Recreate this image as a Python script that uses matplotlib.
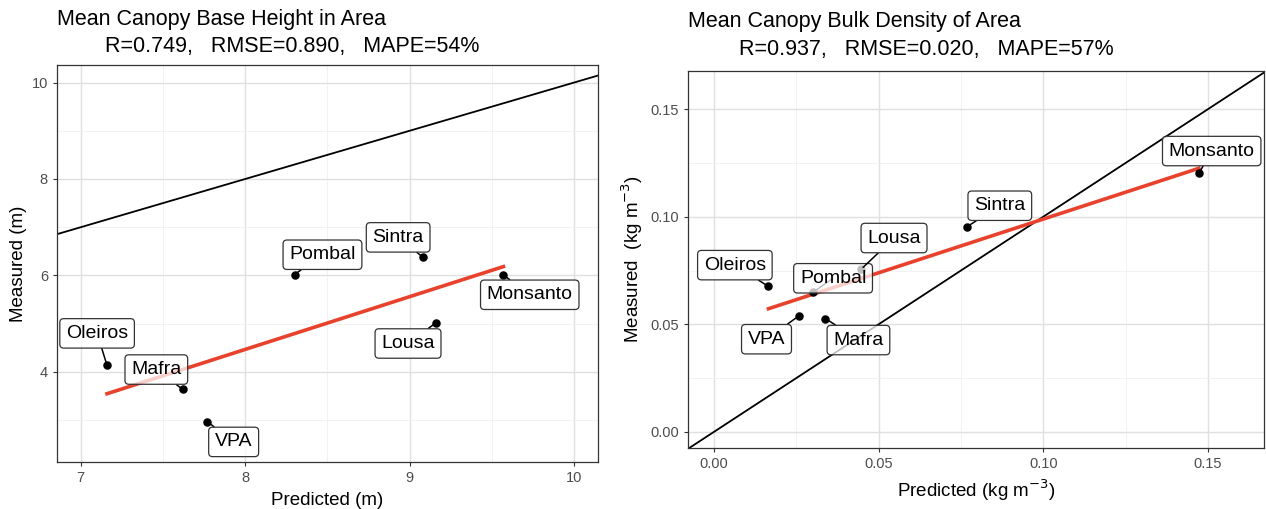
import numpy as np
import matplotlib
matplotlib.use("Agg")
import matplotlib.pyplot as plt

plt.rcParams['font.family'] = ['Liberation Sans', 'DejaVu Sans']

sites = ["Oleiros", "Mafra", "VPA", "Pombal", "Sintra", "Lousa", "Monsanto"]

# canopy base height (m)
cbh_pred = [7.16, 7.62, 7.77, 8.30, 9.08, 9.16, 9.57]
cbh_meas = [4.14, 3.64, 2.97, 6.02, 6.38, 5.02, 6.01]

# canopy bulk density (kg m-3)
cbd_pred = [0.0166, 0.0339, 0.0259, 0.0300, 0.0768, 0.0447, 0.1472]
cbd_meas = [0.0676, 0.0527, 0.0540, 0.0648, 0.0953, 0.0756, 0.1201]

# label box centres (where the repelled labels ended up)
cbh_lab = [(7.10, 4.80), (7.46, 4.05), (7.93, 2.55), (8.47, 6.43),
           (8.93, 6.79), (8.99, 4.59), (9.73, 5.60)]
cbd_lab = [(0.0064, 0.0775), (0.0439, 0.0427), (0.0160, 0.0431), (0.0362, 0.0714),
           (0.0868, 0.1051), (0.0547, 0.0901), (0.1511, 0.1305)]

fig = plt.figure(figsize=(12.66, 5.09), dpi=100)
ax1 = fig.add_axes([0.045, 0.092, 0.4275, 0.780])
ax2 = fig.add_axes([0.5435, 0.120, 0.455, 0.741])


def panel(ax, x, y, labs, lim_x, lim_y, major, minor):
    ax.set_xlim(*lim_x)
    ax.set_ylim(*lim_y)
    ax.set_xticks(major[0])
    ax.set_yticks(major[1])
    ax.set_xticks(minor[0], minor=True)
    ax.set_yticks(minor[1], minor=True)
    ax.grid(True, which='major', color='#E0E0E0', lw=1.0)
    ax.grid(True, which='minor', color='#F0F0F0', lw=0.6)
    ax.set_axisbelow(True)
    ax.tick_params(which='minor', length=0)
    ax.tick_params(which='major', length=3, color='#333333', labelsize=10.5,
                   labelcolor='#4D4D4D')
    for s in ax.spines.values():
        s.set_color('#333333')
        s.set_linewidth(0.9)

    # 1:1 line
    lo = min(lim_x[0], lim_y[0])
    hi = max(lim_x[1], lim_y[1])
    ax.plot([lo, hi], [lo, hi], color='black', lw=1.3, zorder=2)

    # linear fit
    k, b = np.polyfit(x, y, 1)
    xs = np.array([min(x), max(x)])
    ax.plot(xs, k * xs + b, color='#E8412C', lw=2.6, zorder=3)

    ax.scatter(x, y, s=26, color='black', zorder=4)
    for name, px, py, (lx, ly) in zip(sites, x, y, labs):
        ax.annotate(name, xy=(px, py), xytext=(lx, ly), ha='center', va='center',
                    fontsize=14, zorder=5,
                    bbox=dict(boxstyle='round,pad=0.32,rounding_size=0.2', fc=(1, 1, 1, 0.75),
                              ec='#333333', lw=0.9),
                    arrowprops=dict(arrowstyle='-', color='black', lw=1.1,
                                    shrinkA=0, shrinkB=2))


panel(ax1, cbh_pred, cbh_meas, cbh_lab, (6.856, 10.146), (2.13, 10.36),
      ([7, 8, 9, 10], [4, 6, 8, 10]), ([7.5, 8.5, 9.5], [3, 5, 7, 9]))
panel(ax2, cbd_pred, cbd_meas, cbd_lab, (-0.0078, 0.167), (-0.0074, 0.1678),
      ([0, 0.05, 0.10, 0.15], [0, 0.05, 0.10, 0.15]),
      ([0.025, 0.075, 0.125], [0.025, 0.075, 0.125]))
ax2.xaxis.set_major_formatter(plt.FormatStrFormatter('%.2f'))
ax2.yaxis.set_major_formatter(plt.FormatStrFormatter('%.2f'))

ax1.set_xlabel("Predicted (m)", fontsize=13.5, labelpad=5)
ax1.set_ylabel("Measured (m)", fontsize=13.5, labelpad=3)
ax2.set_xlabel("Predicted (kg m$^{-3}$)", fontsize=13.5, labelpad=5)
ax2.set_ylabel("Measured  (kg m$^{-3}$)", fontsize=13.5, labelpad=4)

fig.text(0.045, 0.962, "Mean Canopy Base Height in Area", fontsize=15.5, va='center')
fig.text(0.083, 0.908, "R=0.749,   RMSE=0.890,   MAPE=54%", fontsize=15.5, va='center')
fig.text(0.5435, 0.957, "Mean Canopy Bulk Density of Area", fontsize=15.5, va='center')
fig.text(0.584, 0.903, "R=0.937,   RMSE=0.020,   MAPE=57%", fontsize=15.5, va='center')

fig.savefig("out.png", dpi=100)
